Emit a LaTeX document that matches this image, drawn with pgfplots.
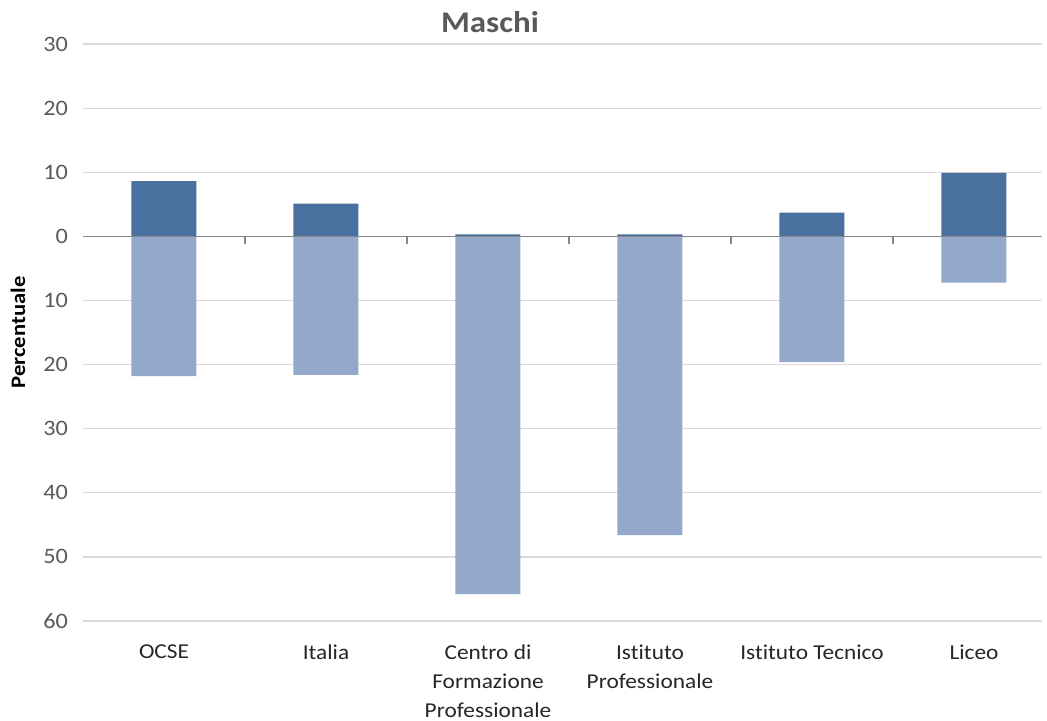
\documentclass[border=0pt]{standalone}
\usepackage{pgfplots}
\pgfplotsset{compat=1.18}
\usepackage{fontspec}
\setmainfont{Carlito}[FakeStretch=1.1, Ligatures=NoCommon]
\definecolor{darkbar}{RGB}{74,112,160}
\definecolor{lightbar}{RGB}{147,168,202}
\definecolor{txtgray}{RGB}{89,89,89}
\definecolor{gridgray}{RGB}{217,217,217}
\definecolor{axisgray}{RGB}{134,134,134}
\begin{document}
\begin{tikzpicture}[x=1pt,y=1pt]
\useasboundingbox (0,0) rectangle (523.5,360);
\begin{axis}[
  at={(41.5pt,49.5pt)}, anchor=south west,
  scale only axis, width=479.5pt, height=288.5pt,
  xmin=-0.5, xmax=5.42, ymin=-60, ymax=30,
  axis line style={draw=none},
  xtick=data, xticklabels={OCSE,Italia,{Centro di\\Formazione\\Professionale},{Istituto\\Professionale},Istituto Tecnico,Liceo},
  xticklabel style={align=center, font=\fontsize{10.6}{14.3}\selectfont, text=black!85, yshift=-8.5pt},
  major tick length=0pt,
  ytick={-60,-50,...,30},
  yticklabels={60,50,40,30,20,10,0,10,20,30},
  yticklabel style={font=\fontsize{11}{12}\selectfont, text=txtgray, xshift=-4pt},
  /pgf/number format/assume math mode=true,
  ymajorgrids, grid style={gridgray, line width=0.6pt},
  ylabel={\textbf{Percentuale}},
  every axis y label/.style={at={(rel axis cs:0,0.5)}, rotate=90, anchor=center, yshift=32.5pt, font=\fontsize{10.3}{12}\selectfont},
  ybar, bar width=32.5pt, bar shift=0pt,
  clip=false,
]
\addplot[fill=lightbar, draw=none] coordinates {(0,-21.8) (1,-21.6) (2,-55.8) (3,-46.6) (4,-19.6) (5,-7.2)};
\addplot[fill=darkbar, draw=none] coordinates {(0,8.6) (1,5.1) (2,0.3) (3,0.3) (4,3.7) (5,9.9)};
\draw[axisgray, line width=0.7pt] (axis cs:-0.5,0) -- (axis cs:5.42,0);
\draw[axisgray, line width=0.7pt] (axis cs:0.5,0) -- ([yshift=-4pt]axis cs:0.5,0);
\draw[axisgray, line width=0.7pt] (axis cs:1.5,0) -- ([yshift=-4pt]axis cs:1.5,0);
\draw[axisgray, line width=0.7pt] (axis cs:2.5,0) -- ([yshift=-4pt]axis cs:2.5,0);
\draw[axisgray, line width=0.7pt] (axis cs:3.5,0) -- ([yshift=-4pt]axis cs:3.5,0);
\draw[axisgray, line width=0.7pt] (axis cs:4.5,0) -- ([yshift=-4pt]axis cs:4.5,0);
\end{axis}
\node[text=txtgray, font=\fontsize{15}{17}\selectfont\bfseries] at (245,349) {Maschi};
\end{tikzpicture}
\end{document}
